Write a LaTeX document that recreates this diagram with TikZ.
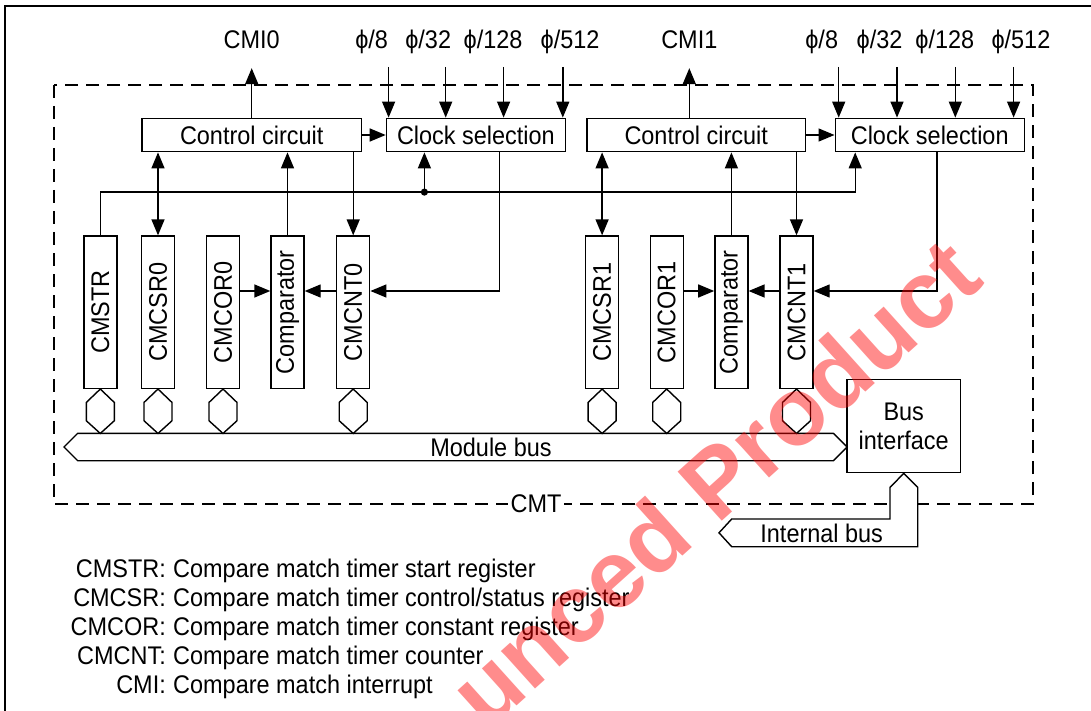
\documentclass[tikz,border=0pt]{standalone}
\usepackage{fontspec}
\setmainfont{Liberation Sans}[FakeStretch=0.92]
\newfontfamily\markfont{Liberation Sans}
\usetikzlibrary{arrows.meta,positioning,shapes.symbols}
\tikzset{
  blk/.style  = {draw, line width=1.4pt, minimum height=33.4pt, inner sep=0pt},
  reg/.style  = {draw, line width=1.4pt, rotate=90, minimum width=152.3pt,
                 minimum height=33pt, inner sep=0pt},
  lbl/.style  = {inner sep=0pt, text height=18.5pt, text depth=6pt},
  wire/.style = {line width=1.4pt},
  arr/.style  = {wire, -{Triangle[length=16pt,width=13pt]}},
  dbl/.style  = {wire, {Triangle[length=16pt,width=13pt]}-{Triangle[length=16pt,width=13pt]}},
  buslink/.pic = {\draw[wire, fill=white] (0,0) -- (-14,13.4) -- (-14,31.7)
                   -- (0,44.4) -- (14,31.7) -- (14,13.4) -- cycle;},
}

\begin{document}
\begin{tikzpicture}[x=1pt, y=-1pt, font=\fontsize{25.5}{29.3}\selectfont]
    \useasboundingbox (0,0) rectangle (1091,711);
    % frame and module outline
    \draw[wire] (5,720) -- (5,6) -- (1100,6);
    \draw[wire, dash pattern=on 13pt off 8pt] (54,85) rectangle (1033,504);
    \node[fill=white, inner sep=3pt] (cmt) at (536,504) {CMT};

    % control and clock blocks
    \node[blk, minimum width=219.4pt] (ctl0) at (251.7,135) {Control circuit};
    \node[blk, minimum width=179pt, right=23.6pt of ctl0] (clk0) {Clock selection};
    \node[blk, minimum width=218.8pt, right=20pt of clk0] (ctl1) {Control circuit};
    \node[blk, minimum width=189pt, right=28.2pt of ctl1] (clk1) {Clock selection};

    % registers
    \node[reg] (str)  at (100.3,312.2) {CMSTR};
    \node[reg] (csr0) at (158,312.2)   {CMCSR0};
    \node[reg] (cor0) at (223,312.2)   {CMCOR0};
    \node[reg] (cmp0) at (287.5,312.2) {Comparator};
    \node[reg] (cnt0) at (353.2,312.2) {CMCNT0};
    \node[reg] (csr1) at (602.1,312.2) {CMCSR1};
    \node[reg] (cor1) at (666.7,312.2) {CMCOR1};
    \node[reg] (cmp1) at (731.4,312.2) {Comparator};
    \node[reg] (cnt1) at (796.5,312.2) {CMCNT1};

    % buses
    \node[draw, wire, fill=white, signal, signal to=west and east, signal pointer angle=90,
          minimum width=783pt, minimum height=27.4pt, inner sep=0pt,
          label={[xshift=35.5pt]center:Module bus}] (mbus) at (455.5,447) {};
    \node[draw, wire, minimum width=113.8pt, minimum height=93.4pt, align=center,
          inner sep=0pt] (busif) at (903.7,426) {Bus\\interface};
    \draw[wire, fill=white] (busif.south) -- ++(14,14) -- ++(0,59.3) -- ++(-186,0)
        -- ++(-12.7,-13.9) -- ++(12.7,-13.8) -- ++(158.3,0) -- ++(0,-31.6) -- cycle;
    \node (ibus) at (821.7,533) {Internal bus};
    \foreach \r in {str,csr0,cor0,cnt0,csr1,cor1,cnt1}
      \pic at (\r.west) {buslink};

    % top labels
    \node[lbl] (cmi0) at (251.7,42.75) {CMI0};
    \node[lbl] (cmi1) at (689.3,42.75) {CMI1};
    \node[lbl] (pa8)   at (371.6,42.75) {ϕ/8};
    \node[lbl] (pa32)  at (428.2,42.75) {ϕ/32};
    \node[lbl] (pa128) at (493.1,42.75) {ϕ/128};
    \node[lbl] (pa512) at (570.1,42.75) {ϕ/512};
    \node[lbl] (pb8)   at (821.7,42.75) {ϕ/8};
    \node[lbl] (pb32)  at (879.5,42.75) {ϕ/32};
    \node[lbl] (pb128) at (944.8,42.75) {ϕ/128};
    \node[lbl] (pb512) at (1020.9,42.75) {ϕ/512};

    \draw[arr] (ctl0.north) -- ([yshift=-13pt]cmi0.south);
    \draw[arr] (cmi1.south |- ctl1.north) -- ([yshift=-13pt]cmi1.south);
    \foreach \p/\dx in {pa8/17, pa32/17.5, pa128/10.5, pa512/-7.3}
      \draw[arr] ([xshift=\dx pt, yshift=-11.7pt]\p.south) coordinate (t\p) -- (t\p |- clk0.north);
    \foreach \p/\dx in {pb8/17, pb32/17.5, pb128/10.5, pb512/-7.3}
      \draw[arr] ([xshift=\dx pt, yshift=-11.7pt]\p.south) coordinate (t\p) -- (t\p |- clk1.north);

    \draw[arr] (ctl0) -- (clk0);
    \draw[arr] (ctl1) -- (clk1);

    % start line to both clock selections
    \coordinate (jn) at ([xshift=-51.5pt, yshift=-39.7pt]clk0.south);
    \draw[arr] (str.east) |- (jn) -| ([xshift=-74.5pt]clk1.south);
    \draw[arr] (jn) -- (jn |- clk0.south);
    \fill (jn) circle (3.6pt);

    % channel 0
    \draw[dbl] (csr0.east) -- (csr0.east |- ctl0.south);
    \draw[arr] (cmp0.east) -- (cmp0.east |- ctl0.south);
    \draw[arr] (cnt0.east |- ctl0.south) -- (cnt0.east);
    \draw[arr] ([yshift=21.2pt]cor0.south) -- ([yshift=21.2pt]cmp0.north);
    \draw[arr] ([yshift=21.2pt]cnt0.north) -- ([yshift=21.2pt]cmp0.south);
    \draw[arr] ([xshift=23.5pt]clk0.south) |- ([yshift=21.2pt]cnt0.south);

    % channel 1
    \draw[dbl] (csr1.east) -- (csr1.east |- ctl1.south);
    \draw[arr] (cmp1.east) -- (cmp1.east |- ctl1.south);
    \draw[arr] (cnt1.east |- ctl1.south) -- (cnt1.east);
    \draw[arr] ([yshift=21.2pt]cor1.south) -- ([yshift=21.2pt]cmp1.north);
    \draw[arr] ([yshift=21.2pt]cnt1.north) -- ([yshift=21.2pt]cmp1.south);
    \draw[arr] ([xshift=7.3pt]clk1.south) |- ([yshift=21.2pt]cnt1.south);

    % legend
    \node[anchor=base east, inner sep=0pt] (k1) at (166,577.5) {CMSTR:};
    \node[anchor=base east, inner sep=0pt] (k2) at (166,606.6) {CMCSR:};
    \node[anchor=base east, inner sep=0pt] (k3) at (166,635.7) {CMCOR:};
    \node[anchor=base east, inner sep=0pt] (k4) at (166,664.8) {CMCNT:};
    \node[anchor=base east, inner sep=0pt] (k5) at (166,693.9) {CMI:};
    \node[anchor=base west, inner sep=0pt, xshift=7pt] (d1) at (k1.base east) {Compare match timer start register};
    \node[anchor=base west, inner sep=0pt, xshift=7pt] (d2) at (k2.base east) {Compare match timer control/status register};
    \node[anchor=base west, inner sep=0pt, xshift=7pt] (d3) at (k3.base east) {Compare match timer constant register};
    \node[anchor=base west, inner sep=0pt, xshift=7pt] (d4) at (k4.base east) {Compare match timer counter};
    \node[anchor=base west, inner sep=0pt, xshift=7pt] (d5) at (k5.base east) {Compare match interrupt};

    % watermark
    \node[text=red, text opacity=0.45, rotate=42, inner sep=0pt,
          font=\markfont\bfseries\fontsize{96}{96}\selectfont] (wmark) at (714,482) {unced Product};
\end{tikzpicture}
\end{document}
